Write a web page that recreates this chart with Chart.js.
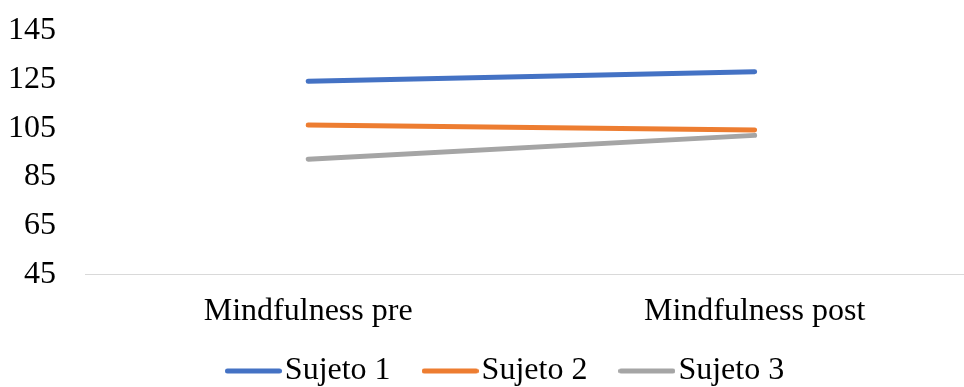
<!DOCTYPE html>
<html lang="es">
<head>
<meta charset="utf-8">
<title>Mindfulness pre / post</title>
<script src="https://cdn.jsdelivr.net/npm/chart.js@4/dist/chart.umd.min.js"></script>
<style>
  html, body { margin: 0; padding: 0; background: #ffffff; overflow: hidden; }
  #wrap { width: 964px; height: 387px; position: relative; }
</style>
</head>
<body>
<div id="wrap"><canvas id="chart"></canvas></div>
<script>
// Measurement moments (x axis)
const categories = ['Mindfulness pre', 'Mindfulness post'];

// Scores per subject
const sujeto1 = [124.3, 128.3];
const sujeto2 = [106.4, 104.3];
const sujeto3 = [92.3, 102.1];

const seriesNames = ['Sujeto 1', 'Sujeto 2', 'Sujeto 3'];
const seriesColors = ['#4472C4', '#ED7D31', '#A5A5A5'];

// Y axis range and step
const yMin = 45;
const yMax = 145;
const yStep = 20;

const FONT = '"Liberation Serif", "Times New Roman", Times, serif';
const FONT_SIZE = 32;

function toPoints(values) {
  return values.map((v, i) => ({ x: i, y: v }));
}

// Short rounded stroke used as the legend swatch
function swatch(color) {
  const c = document.createElement('canvas');
  c.width = 57;
  c.height = 6;
  const g = c.getContext('2d');
  g.strokeStyle = color;
  g.lineWidth = 5;
  g.lineCap = 'round';
  g.beginPath();
  g.moveTo(2.5, 3);
  g.lineTo(54.5, 3);
  g.stroke();
  return c;
}

const datasets = [sujeto1, sujeto2, sujeto3].map((vals, i) => ({
  label: seriesNames[i],
  data: toPoints(vals),
  borderColor: seriesColors[i],
  backgroundColor: seriesColors[i],
  borderWidth: 5,
  borderCapStyle: 'round',
  pointRadius: 0,
  pointHoverRadius: 0,
  tension: 0,
  fill: false
}));

// Moves the legend row away from its default slot
const LEGEND_DX = 25;
const LEGEND_DY = -23.3;
const legendNudge = {
  id: 'legendNudge',
  afterLayout(chart) {
    const lg = chart.legend;
    if (!lg) return;
    lg.left += LEGEND_DX; lg.right += LEGEND_DX;
    lg.top += LEGEND_DY; lg.bottom += LEGEND_DY;
  }
};

new Chart(document.getElementById('chart'), {
  type: 'line',
  data: { datasets },
  plugins: [legendNudge],
  options: {
    responsive: true,
    maintainAspectRatio: false,
    animation: false,
    layout: { padding: { left: 8, right: 0, top: 31, bottom: -33.3 } },
    scales: {
      x: {
        type: 'linear',
        min: -0.5,
        max: 1.469,
        afterBuildTicks(scale) {
          scale.ticks = categories.map((_, i) => ({ value: i }));
        },
        afterFit(scale) {
          scale.height = 60;
          scale.paddingLeft = 0;
          scale.paddingRight = 0;
        },
        grid: { display: false, drawTicks: false },
        border: { display: true, color: '#D9D9D9', width: 1 },
        ticks: {
          color: '#000000',
          padding: 21.7,
          autoSkip: false,
          maxRotation: 0,
          font: { family: FONT, size: FONT_SIZE, lineHeight: 1.0 },
          callback: (value) => categories[value] ?? ''
        }
      },
      y: {
        min: yMin,
        max: yMax,
        afterFit(scale) {
          scale.width = 77;
          scale.paddingTop = 0;
          scale.paddingBottom = 0;
        },
        grid: { display: false, drawTicks: false },
        border: { display: false },
        ticks: {
          stepSize: yStep,
          color: '#000000',
          padding: 29,
          font: { family: FONT, size: FONT_SIZE }
        }
      }
    },
    plugins: {
      tooltip: { enabled: false },
      legend: {
        display: true,
        position: 'bottom',
        labels: {
          color: '#000000',
          usePointStyle: true,
          pointStyleWidth: 31,
          boxHeight: 6,
          padding: 44,
          font: { family: FONT, size: FONT_SIZE },
          generateLabels(chart) {
            return chart.data.datasets.map((ds, i) => ({
              text: ds.label,
              fillStyle: ds.borderColor,
              strokeStyle: ds.borderColor,
              lineWidth: 0,
              pointStyle: swatch(ds.borderColor),
              hidden: !chart.isDatasetVisible(i),
              datasetIndex: i,
              fontColor: '#000000'
            }));
          }
        }
      }
    }
  }
});
</script>
</body>
</html>
